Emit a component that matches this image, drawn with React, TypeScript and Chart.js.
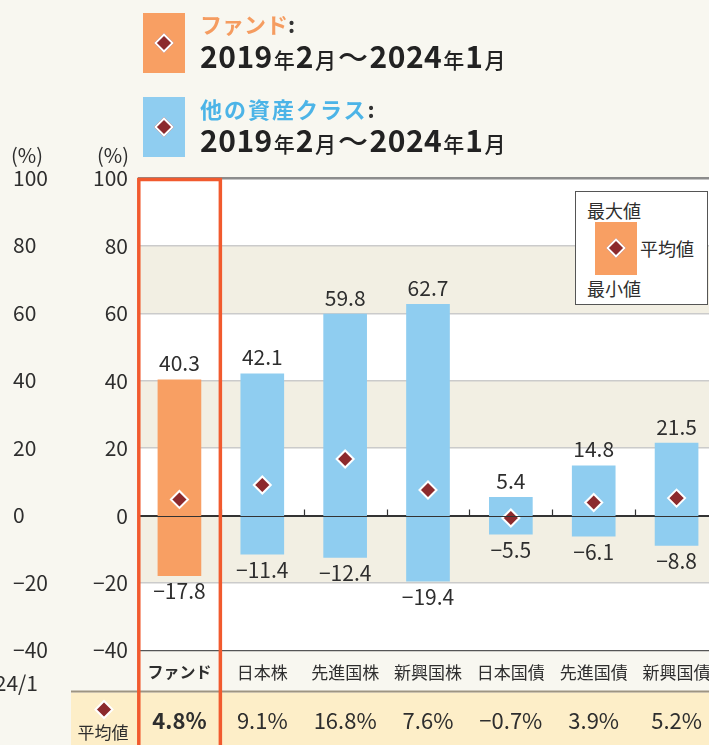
import React, { useEffect, useRef } from 'react';
import { Chart, registerables } from 'chart.js';

Chart.register(...registerables);

// ---- data ----
const categories = ['ファンド', '日本株', '先進国株', '新興国株', '日本国債', '先進国債', '新興国債'];
const maxValues = [40.3, 42.1, 59.8, 62.7, 5.4, 14.8, 21.5];
const minValues = [-17.8, -11.4, -12.4, -19.4, -5.5, -6.1, -8.8];
const avgValues = [4.8, 9.1, 16.8, 7.6, -0.7, 3.9, 5.2];
const yMin = -40;
const yMax = 100;
const yStep = 20;
const shadedBands = [[60, 80], [20, 40], [-20, 0]];
const ghostDateLabel = '24/1';

// ---- style ----
const FONT = '"Noto Sans CJK JP", "Noto Sans", sans-serif';
const FUND = '#f89f63';
const OTHER = '#8fcdf0';
const DIAMOND = '#8c2a2d';
const RED = '#f15a2e';
const BEIGE = '#f2efe3';
const PAGE = '#f8f7f0';
const AVG_BG = '#fdeec8';
const TEXT = '#2e2e2e';

const signed = (v: number) => (v < 0 ? '\u2212' + Math.abs(v) : String(v));
const fmt1 = (v: number) => (v < 0 ? '\u2212' + Math.abs(v).toFixed(1) : v.toFixed(1));

function drawDiamond(ctx: CanvasRenderingContext2D, x: number, y: number, r: number) {
  ctx.beginPath();
  ctx.moveTo(x, y - r);
  ctx.lineTo(x + r, y);
  ctx.lineTo(x, y + r);
  ctx.lineTo(x - r, y);
  ctx.closePath();
  ctx.fillStyle = DIAMOND;
  ctx.fill();
  ctx.strokeStyle = '#ffffff';
  ctx.lineWidth = 2;
  ctx.stroke();
}

const decorPlugin = {
  id: 'decor',
  beforeDraw(chart: any) {
    const { ctx, chartArea: a, scales } = chart;
    const y = scales.y;
    ctx.save();
    ctx.fillStyle = '#ffffff';
    ctx.fillRect(a.left, a.top, a.right - a.left, a.bottom - a.top);
    ctx.fillStyle = BEIGE;
    for (const [lo, hi] of shadedBands) {
      const y1 = y.getPixelForValue(hi);
      const y2 = y.getPixelForValue(lo);
      ctx.fillRect(a.left, y1, a.right - a.left, y2 - y1);
    }
    // average row
    const rowTop = a.bottom + 42;
    ctx.fillStyle = AVG_BG;
    ctx.fillRect(71, rowTop, chart.width - 71, chart.height - rowTop);
    ctx.strokeStyle = '#9d9482';
    ctx.lineWidth = 2;
    ctx.beginPath();
    ctx.moveTo(71, rowTop - 1);
    ctx.lineTo(chart.width, rowTop - 1);
    ctx.stroke();

    // ghost axis of the neighbouring chart + unit labels
    ctx.fillStyle = TEXT;
    ctx.font = `21px ${FONT}`;
    ctx.textBaseline = 'alphabetic';
    ctx.textAlign = 'left';
    for (let v = yMin; v <= yMax; v += yStep) {
      ctx.fillText(signed(v), 13, y.getPixelForValue(v) + 7.5);
    }
    ctx.textAlign = 'right';
    ctx.fillText(ghostDateLabel, 38, a.bottom + 40);
    ctx.font = `20px ${FONT}`;
    ctx.textAlign = 'left';
    ctx.fillText('(%)', 11, a.top - 16);
    ctx.textAlign = 'right';
    ctx.fillText('(%)', 129, a.top - 16);
    ctx.restore();
  },
  afterDatasetDraw(chart: any, args: any) {
    if (args.index !== 0) return;
    const { ctx, chartArea: a, scales } = chart;
    const x = scales.x;
    const y0 = Math.round(scales.y.getPixelForValue(0)) + 0.5;
    ctx.save();
    ctx.strokeStyle = '#333333';
    ctx.lineWidth = 1.2;
    ctx.beginPath();
    ctx.moveTo(a.left, y0);
    ctx.lineTo(a.right, y0);
    for (let i = 0; i < categories.length - 1; i++) {
      const bx = Math.round((x.getPixelForValue(i) + x.getPixelForValue(i + 1)) / 2) + 0.5;
      ctx.moveTo(bx, y0 - 7);
      ctx.lineTo(bx, y0);
    }
    ctx.stroke();
    ctx.restore();
  },
  afterDatasetsDraw(chart: any) {
    const { ctx, chartArea: a, scales } = chart;
    const x = scales.x;
    const y = scales.y;
    ctx.save();
    ctx.fillStyle = TEXT;
    ctx.textAlign = 'center';
    ctx.textBaseline = 'alphabetic';
    ctx.font = `21px ${FONT}`;
    categories.forEach((_, i) => {
      const cx = x.getPixelForValue(i);
      ctx.fillText(fmt1(maxValues[i]), cx, y.getPixelForValue(maxValues[i]) - 8.5);
      ctx.fillText(fmt1(minValues[i]), cx, y.getPixelForValue(minValues[i]) + 23.5);
    });
    // average row values
    const base = a.bottom + 78;
    categories.forEach((_, i) => {
      const cx = x.getPixelForValue(i);
      ctx.font = `${i === 0 ? 'bold ' : ''}22px ${FONT}`;
      ctx.fillText(fmt1(avgValues[i]) + '%', cx, base);
    });
    drawDiamond(ctx, 104, a.bottom + 59, 8.5);
    ctx.fillStyle = TEXT;
    ctx.font = `17px ${FONT}`;
    ctx.fillText('平均値', 103, a.bottom + 88);
    ctx.restore();
  },
  afterDraw(chart: any) {
    const { ctx, chartArea: a, scales } = chart;
    const x = scales.x;
    const half = (x.getPixelForValue(1) - x.getPixelForValue(0)) / 2;
    const x0 = x.getPixelForValue(0) - half + 0.8;
    const x1 = x.getPixelForValue(0) + half - 0.5;
    ctx.save();
    ctx.strokeStyle = RED;
    ctx.lineWidth = 3.5;
    ctx.strokeRect(x0, a.top + 1, x1 - x0, chart.height + 20);
    ctx.restore();
  },
};

function Diamond({ left, top }: { left: number; top: number }) {
  return (
    <div
      style={{
        position: 'absolute',
        left,
        top,
        width: 10,
        height: 10,
        background: DIAMOND,
        border: '2px solid #fff',
        transform: 'rotate(45deg)',
      }}
    />
  );
}

function DateLine({ top }: { top: number }) {
  const big = { fontSize: 30, fontWeight: 700, lineHeight: '30px', letterSpacing: 0.5 } as const;
  const small = { fontSize: 21, fontWeight: 500, lineHeight: '30px', margin: '0 1px' } as const;
  return (
    <div
      style={{
        position: 'absolute',
        left: 200,
        top,
        display: 'flex',
        alignItems: 'baseline',
        color: '#222',
        whiteSpace: 'nowrap',
      }}
    >
      <span style={big}>2019</span>
      <span style={small}>年</span>
      <span style={big}>2</span>
      <span style={small}>月</span>
      <span style={{ ...big, fontWeight: 500, margin: '0 1px' }}>～</span>
      <span style={big}>2024</span>
      <span style={small}>年</span>
      <span style={big}>1</span>
      <span style={small}>月</span>
    </div>
  );
}

export default function App() {
  const ref = useRef<HTMLCanvasElement | null>(null);

  useEffect(() => {
    if (!ref.current) return;
    const chart = new Chart(ref.current, {
      type: 'bar',
      data: {
        labels: categories,
        datasets: [
          {
            type: 'line',
            label: '平均値',
            data: avgValues,
            showLine: false,
            pointStyle: 'rectRot',
            pointRadius: 8.5,
            pointBackgroundColor: DIAMOND,
            pointBorderColor: '#ffffff',
            pointBorderWidth: 2,
            order: 0,
            clip: false,
          } as any,
          {
            type: 'bar',
            label: 'レンジ',
            data: categories.map((_, i) => [minValues[i], maxValues[i]]),
            backgroundColor: categories.map((_, i) => (i === 0 ? FUND : OTHER)),
            borderWidth: 0,
            barThickness: 43,
            order: 1,
          } as any,
        ],
      },
      options: {
        responsive: false,
        devicePixelRatio: 1,
        animation: false,
        layout: { padding: { left: 0, top: 178.5, right: 12, bottom: 0 } },
        plugins: { legend: { display: false }, tooltip: { enabled: false } },
        scales: {
          x: {
            grid: { display: false, drawTicks: false },
            border: { display: false },
            ticks: {
              color: TEXT,
              padding: 12,
              autoSkip: false,
              maxRotation: 0,
              font: (c: any) => ({
                family: FONT,
                size: c.index === 0 ? 16 : 17,
                weight: c.index === 0 ? 'bold' : 'normal',
              }),
            },
            afterFit: (s: any) => {
              s.height = 94.5;
            },
          },
          y: {
            min: yMin,
            max: yMax,
            ticks: {
              stepSize: yStep,
              color: TEXT,
              padding: 10,
              font: { family: FONT, size: 21 },
              callback: (v: any) => signed(Number(v)),
            },
            grid: {
              drawTicks: false,
              color: (c: any) => {
                const v = c.tick && c.tick.value;
                if (v === 0) return '#333333';
                if (v === yMin) return '#555555';
                if (v === yMax) return '#8c8c8c';
                return '#cbcbcb';
              },
              lineWidth: (c: any) => {
                const v = c.tick && c.tick.value;
                if (v === yMax) return 2.5;
                if (v === 0 || v === yMin) return 1.2;
                return 1.5;
              },
            },
            border: { display: false },
            afterFit: (s: any) => {
              s.width = 138;
            },
          },
        },
      },
      plugins: [decorPlugin],
    });
    return () => chart.destroy();
  }, []);

  const legendText = { position: 'absolute', fontSize: 18, lineHeight: '18px', color: TEXT, whiteSpace: 'nowrap' } as const;

  return (
    <div
      style={{
        position: 'fixed',
        left: 0,
        top: 0,
        width: 709,
        height: 745,
        overflow: 'hidden',
        background: PAGE,
        fontFamily: FONT,
      }}
    >
      <canvas ref={ref} width={730} height={745} style={{ position: 'absolute', left: 0, top: 0, width: 730, height: 745 }} />

      {/* header */}
      <div style={{ position: 'absolute', left: 143, top: 13, width: 42, height: 60, background: FUND }} />
      <Diamond left={157} top={36} />
      <div style={{ position: 'absolute', left: 200, top: 12, fontSize: 22, lineHeight: '22px', fontWeight: 700, whiteSpace: 'nowrap' }}>
        <span style={{ color: '#f59c60' }}>ファンド</span>
        <span style={{ color: '#333' }}>:</span>
      </div>
      <DateLine top={40} />

      <div style={{ position: 'absolute', left: 143, top: 97, width: 42, height: 60, background: OTHER }} />
      <Diamond left={157} top={120} />
      <div style={{ position: 'absolute', left: 200, top: 97, fontSize: 22, lineHeight: '22px', fontWeight: 700, whiteSpace: 'nowrap', letterSpacing: 2 }}>
        <span style={{ color: '#4cb4e7' }}>他の資産クラス</span>
        <span style={{ color: '#333' }}>:</span>
      </div>
      <DateLine top={124} />

      {/* legend box */}
      <div
        style={{
          position: 'absolute',
          left: 575,
          top: 191,
          width: 133,
          height: 114,
          background: '#fff',
          border: '1px solid #555',
          boxSizing: 'border-box',
        }}
      />
      <div style={{ ...legendText, left: 587, top: 201 }}>最大値</div>
      <div style={{ position: 'absolute', left: 595, top: 222, width: 42, height: 53, background: FUND }} />
      <Diamond left={609} top={241} />
      <div style={{ ...legendText, left: 640, top: 239 }}>平均値</div>
      <div style={{ ...legendText, left: 587, top: 279 }}>最小値</div>
    </div>
  );
}
